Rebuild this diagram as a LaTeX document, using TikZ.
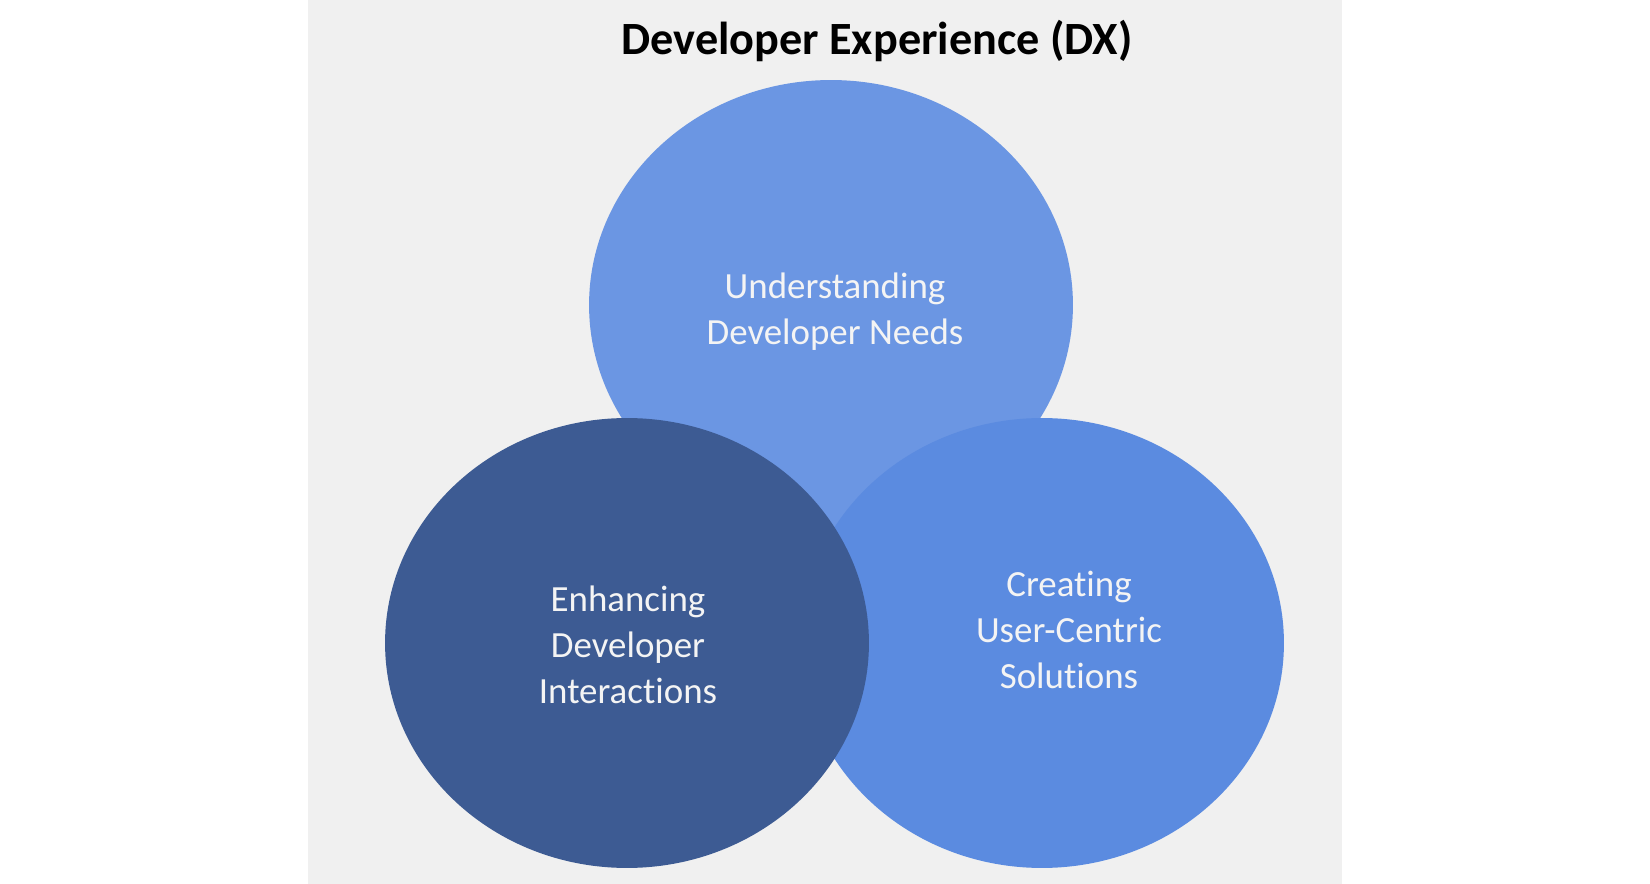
\documentclass[tikz,border=0pt]{standalone}
\usepackage{fontspec}
\setmainfont{Carlito}[Ligatures=NoCommon]
\usepackage{xcolor}
\usetikzlibrary{shapes.geometric}
\definecolor{panelgray}{HTML}{F0F0F0}
\definecolor{needsblue}{HTML}{6B96E3}
\definecolor{solveblue}{HTML}{5B8BE0}
\definecolor{interblue}{HTML}{3D5B93}
\definecolor{softwhite}{HTML}{F4F4F4}
\tikzstyle{bubble} = [ellipse,minimum width=9.68cm,minimum height=9cm,
  inner sep=0pt]
\tikzstyle{bubbletext} = [text=softwhite,align=center,
  font=\fontsize{21pt}{26pt}\selectfont]

\begin{document}
\begin{tikzpicture}[x=0.02cm,y=-0.02cm]
    \useasboundingbox (0,0) rectangle (1650,884);
    \fill [white] (0,0) rectangle (1650,884);
    \fill [panelgray] (308,0) rectangle (1342,884);
    \node [font=\fontsize{26.3pt}{31pt}\selectfont\bfseries] (title) at (877,41) {%
      Developer Experience (DX)};
    % the three bubbles, back to front
    \node [bubble,fill=needsblue] (needs) at (831,305) {};
    \node [bubble,fill=solveblue] (solutions) at (1042,643) {};
    \node [bubble,fill=interblue] (interactions) at (627,643) {};
    \node [bubbletext] (needstext) at (835,312) {%
      Understanding\\Developer Needs};
    \node [bubbletext] (solutionstext) at (1069,630) {%
      Creating\\User-Centric\\Solutions};
    \node [bubbletext] (interactionstext) at (628,645) {%
      Enhancing\\Developer\\Interactions};
  \end{tikzpicture}
\end{document}
